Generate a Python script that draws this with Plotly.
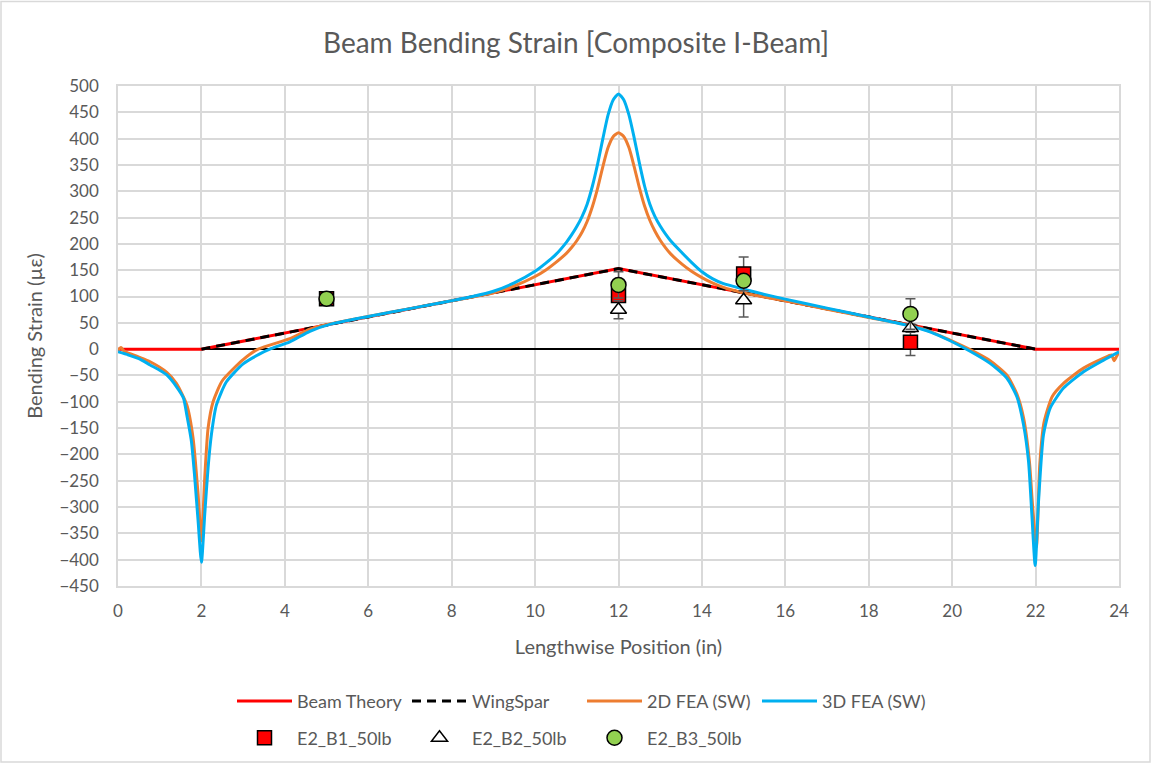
import plotly.graph_objects as go

# Analytical solutions
beam_x = [0, 2, 12, 22, 24]
beam_y = [0, 0, 153, 0, 0]
spar_x = [2, 12, 22]
spar_y = [0, 153, 0]

# 2D FEA (SolidWorks) strain along the beam
fea2d_x = [0, 0.07, 0.15, 0.5, 0.77, 1.17, 1.4, 1.65, 1.8, 1.92, 2.0, 2.08, 2.16, 2.28,
           2.5, 3.0, 3.36, 4.12, 4.6, 5.08, 6, 7, 8, 8.5, 9, 9.5, 10, 10.25, 10.5, 10.75,
           10.875, 11.0, 11.125, 11.25, 11.375, 11.5, 11.625, 11.75, 11.875, 12.0,
           12.125, 12.25, 12.375, 12.5, 12.625, 12.75, 12.875, 13.0, 13.125, 13.25, 13.5,
           13.75, 14.0, 14.25, 14.5, 15.0, 15.5, 16, 17, 18, 19, 19.5, 19.95, 20.43, 20.91,
           21.31, 21.55, 21.71, 21.85, 21.93, 22.02, 22.1, 22.2, 22.4, 22.67, 23.15, 23.63,
           23.82, 23.88, 23.94, 24.0]
fea2d_y = [-2, 3, -4, -15, -24, -44, -65, -106, -169, -276, -364, -244, -150, -100,
           -60, -20, 0, 20, 38, 48, 62, 77, 92, 99, 107, 120, 138, 150, 165, 182,
           193, 206, 222, 243, 271, 306, 347, 383, 404, 411,
           404, 383, 347, 307, 272, 245, 224, 207, 193, 181, 163,
           148, 136, 126, 118, 107, 99, 92, 76, 60, 45, 33, 17, -1, -22,
           -49, -85, -130, -212, -300, -376, -220, -140, -90, -65, -36, -17,
           -11, -22, -14, -5]

# 3D FEA (SolidWorks) strain along the beam
fea3d_x = [0, 0.25, 0.5, 0.77, 1.0, 1.17, 1.4, 1.57, 1.65, 1.76, 1.84, 1.92, 2.0, 2.08,
           2.16, 2.24, 2.36, 2.6, 3.0, 3.4, 3.64, 4.12, 4.6, 5.08, 6, 7, 8, 8.5, 9, 9.5,
           10, 10.25, 10.5, 10.75, 10.875, 11.0, 11.125, 11.25, 11.375, 11.5, 11.625,
           11.75, 11.875, 12.0, 12.125, 12.25, 12.375, 12.5, 12.625, 12.75, 12.875, 13.0,
           13.125, 13.25, 13.5, 13.75, 14.0, 14.25, 14.5, 15.0, 15.5, 16, 17, 18, 19,
           19.5, 19.95, 20.43, 20.91, 21.31, 21.55, 21.71, 21.83, 21.91, 21.99, 22.07,
           22.19, 22.35, 22.67, 23.15, 23.63, 24.0]
fea3d_y = [-5, -11, -18, -30, -40, -49, -71, -93, -125, -175, -244, -326, -405, -313,
           -225, -162, -106, -62, -28, -9, 0, 14, 34, 47, 62, 77, 92, 100, 110, 126,
           148, 163, 180, 203, 217, 233, 252, 276, 310, 352, 400,
           445, 474, 485, 474, 445, 402, 354, 310, 276, 252, 234,
           219, 206, 185, 165, 147, 134, 125, 114, 104, 95, 78, 61, 44,
           32, 16, -4, -27, -55, -90, -143, -212, -313, -411, -290,
           -162, -112, -74, -43, -21, -5]

# Strain gauge measurements (50 lb load)
b1_x = [5, 12, 15, 19]
b1_y = [96, 102, 143, 13]
b1_err = [0, 10, 32, 25]

b2_x = [12, 15, 19]
b2_y = [75, 93, 40]
b2_err = [17, 32, 8]

b3_x = [5, 12, 15, 19]
b3_y = [96, 122, 130, 67]
b3_err = [0, 25, 10, 29]

FONT = "Lato"
GRAY = "#595959"
GRID = "#d9d9d9"

fig = go.Figure()

fig.add_trace(go.Scatter(x=beam_x, y=beam_y, mode="lines", name="Beam Theory",
                         line=dict(color="#ff0000", width=3), legend="legend"))
fig.add_trace(go.Scatter(x=spar_x, y=spar_y, mode="lines", name="WingSpar",
                         line=dict(color="#000000", width=3, dash="9px,6px"), legend="legend"))
fig.add_trace(go.Scatter(x=fea2d_x, y=fea2d_y, mode="lines", name="2D FEA (SW)",
                         line=dict(color="#ed7d31", width=3, shape="spline", smoothing=0.6),
                         legend="legend"))
fig.add_trace(go.Scatter(x=fea3d_x, y=fea3d_y, mode="lines", name="3D FEA (SW)",
                         line=dict(color="#00b0f0", width=3, shape="spline", smoothing=0.6),
                         legend="legend"))

err_style = dict(type="data", visible=True, color=GRAY, thickness=1.5, width=5)

fig.add_trace(go.Scatter(x=b1_x, y=b1_y, mode="markers", name="E2_B1_50lb",
                         marker=dict(symbol="square", size=14, color="#ff0000",
                                     line=dict(color="#000000", width=1.5)),
                         error_y=dict(array=b1_err, **err_style), legend="legend2"))
fig.add_trace(go.Scatter(x=b2_x, y=b2_y, mode="markers", name="E2_B2_50lb",
                         marker=dict(symbol="triangle-up", size=14, color="#ffffff",
                                     line=dict(color="#000000", width=1.5)),
                         error_y=dict(array=b2_err, **err_style), legend="legend2"))
fig.add_trace(go.Scatter(x=b3_x, y=b3_y, mode="markers", name="E2_B3_50lb",
                         marker=dict(symbol="circle", size=15, color="#92d050",
                                     line=dict(color="#000000", width=1.5)),
                         error_y=dict(array=b3_err, **err_style), legend="legend2"))

L, R, T, B = 118, 33, 86, 179
W, H = 1152, 768
pw, ph = W - L - R, H - T - B

def px_x(p):
    return (p - L) / pw

def px_y(p):
    return (H - B - p) / ph

legend_common = dict(orientation="h", xanchor="left", yanchor="middle",
                     font=dict(family=FONT, size=18, color=GRAY),
                     bgcolor="rgba(0,0,0,0)", entrywidth=105, entrywidthmode="pixels",
                     itemwidth=55)

fig.update_layout(
    width=W, height=H,
    margin=dict(l=L, r=R, t=T, b=B),
    paper_bgcolor="white", plot_bgcolor="white",
    font=dict(family=FONT, color=GRAY, size=16),
    title=dict(text="Beam Bending Strain [Composite I-Beam]", x=0.5, xanchor="center",
               y=1 - 43 / H, yanchor="middle",
               font=dict(family=FONT, size=28, color=GRAY)),
    xaxis=dict(range=[0, 24], dtick=2, tick0=0, showgrid=True, gridcolor=GRID, gridwidth=1.5,
               zeroline=False, showline=True, linecolor=GRID, linewidth=1.5, mirror=True,
               ticks="", tickfont=dict(family=FONT, size=17, color=GRAY),
               ticklabelstandoff=9,
               title=dict(text="Lengthwise Position (in)", standoff=20,
                          font=dict(family=FONT, size=20, color=GRAY))),
    yaxis=dict(range=[-450, 500], dtick=50, tick0=0, showgrid=True, gridcolor=GRID, gridwidth=1.5,
               zeroline=True, zerolinecolor="#000000", zerolinewidth=1.5,
               showline=True, linecolor=GRID, linewidth=1.5, mirror=True,
               ticks="", tickfont=dict(family=FONT, size=17, color=GRAY),
               ticklabelstandoff=14,
               title=dict(text="Bending Strain (µε)", standoff=11,
                          font=dict(family=FONT, size=20, color=GRAY))),
    legend=dict(x=px_x(232), y=px_y(705), **legend_common),
    legend2=dict(x=px_x(232), y=px_y(742), **legend_common),
    showlegend=True,
)

# Chart-area frame
fig.add_shape(type="rect", xref="paper", yref="paper",
              x0=px_x(1), x1=px_x(1150), y0=px_y(766), y1=px_y(1),
              line=dict(color=GRID, width=1.5), fillcolor="rgba(0,0,0,0)", layer="below")

fig.write_html("out.html")
